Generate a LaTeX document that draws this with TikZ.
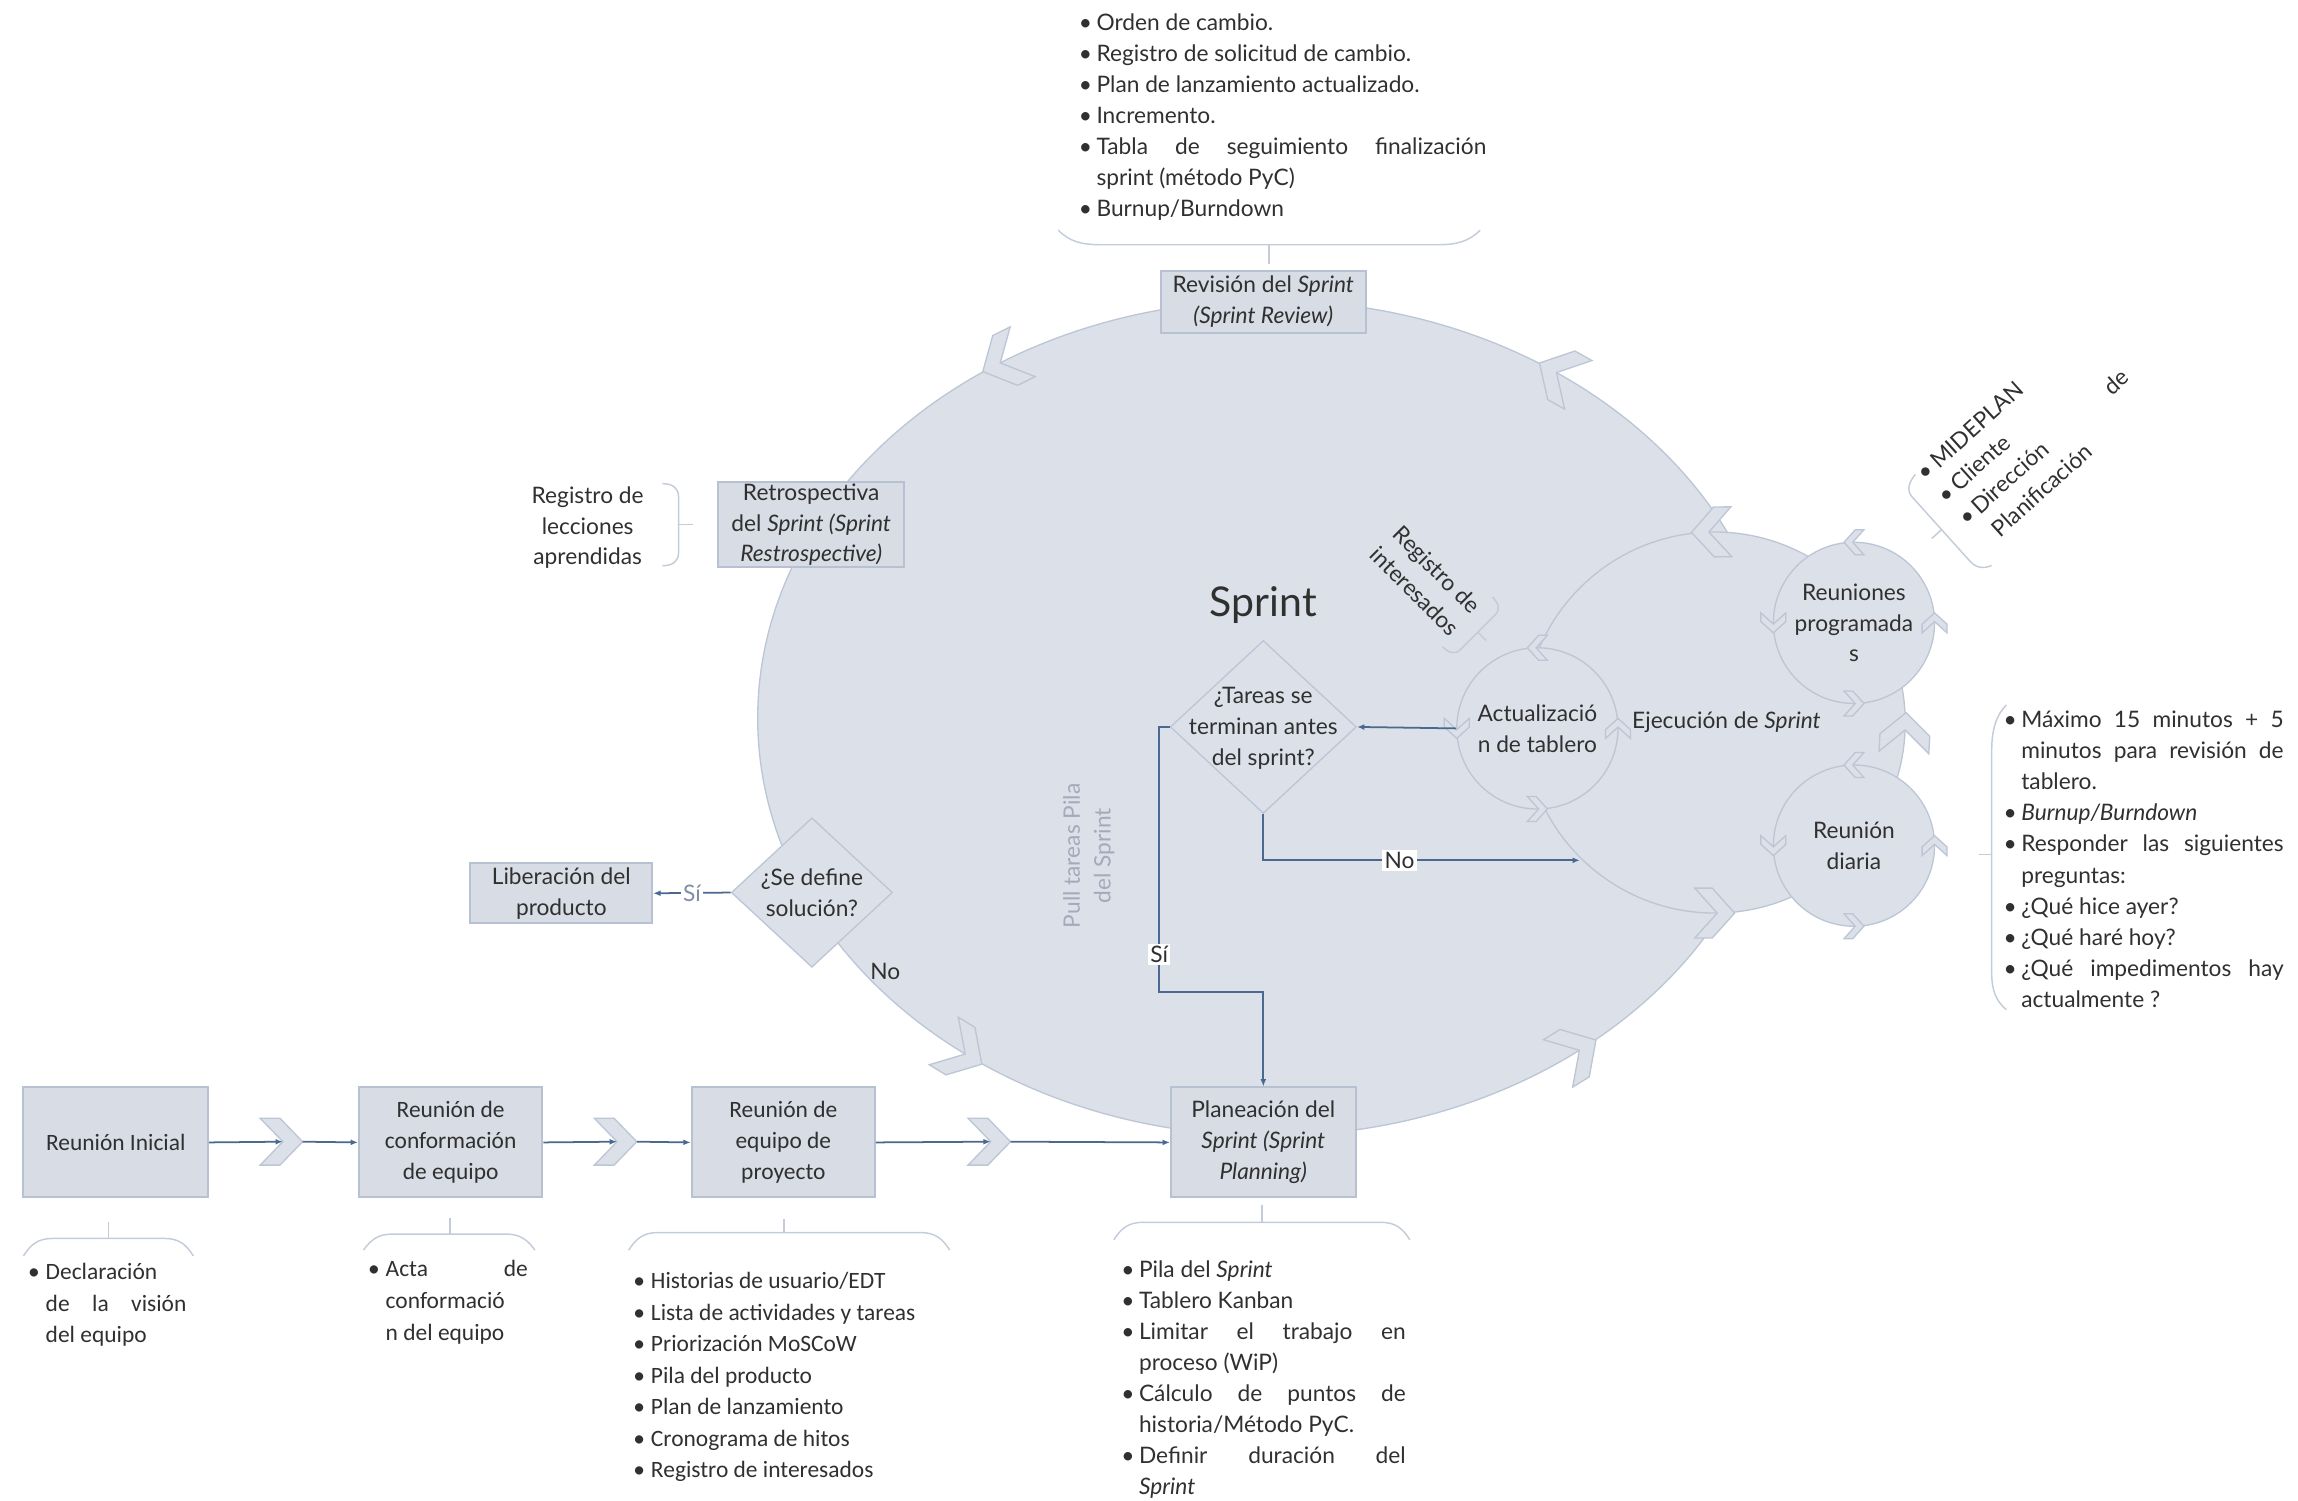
\documentclass[tikz,border=0pt]{standalone}
\usepackage{fontspec}
\setmainfont{Lato}
\newfontfamily\narrowfont{Carlito}
\usetikzlibrary{shapes.geometric,arrows.meta}

\definecolor{sprintfill}{HTML}{DCE0E8}
\definecolor{sprintline}{HTML}{BCC6D5}
\definecolor{boxfill}{HTML}{D7DCE5}
\definecolor{boxline}{HTML}{B7C1D1}
\definecolor{flow}{HTML}{4A6890}
\definecolor{ink}{HTML}{303030}
\definecolor{soft}{HTML}{A3ABBB}
\definecolor{softlabel}{HTML}{7F8FA8}
\definecolor{bracket}{HTML}{C3CCD9}

\newcommand\bul{\makebox[12pt][l]{•}}
\newcommand\ind{\hspace*{12pt}}
\newcommand\jline[2]{\makebox[#1pt][s]{#2}}

% chevron sitting on an ellipse (centre, radii, parameter angle, size)
\newcommand\arcchev[6]{%
  \pgfmathsetmacro\chx{#1+#3*cos(#5)}%
  \pgfmathsetmacro\chy{#2+#4*sin(#5)}%
  \pgfmathsetmacro\cha{atan2(#4*cos(#5),-#3*sin(#5))}%
  \draw[chevron, shift={(\chx,\chy)}, rotate=\cha, scale=#6]
    (-0.4,0.5) -- (-0.05,0.5) -- (0.4,0) -- (-0.05,-0.5) -- (-0.4,-0.5) -- (0.05,0) -- cycle;
}
% chevron of the lower flow, with coordinates at its notch and tip
\newcommand\flowchev[3]{%
  \draw[chevron] (#1-14.5,#2+16) -- (#1-1,#2+16) -- (#1+14.5,#2) -- (#1-1,#2-16)
    -- (#1-14.5,#2-16) -- (#1+1,#2) -- cycle;
  \coordinate (#3n) at (#1+1,#2);
  \coordinate (#3t) at (#1+14.5,#2);
}
% rounded cap bracket with stem (left x, right x, top y, end y, stem x, stem end y)
\newcommand\capbrace[6]{%
  \draw[brace] (#1,-#4) .. controls (#1+5,-#3-4) and (#1+10,-#3) .. (#1+20,-#3)
    -- (#2-20,-#3) .. controls (#2-10,-#3) and (#2-5,-#3-4) .. (#2,-#4);
  \draw[brace] (#5,-#3) -- (#5,-#6);
}

\tikzset{
  cyc/.style={fill=sprintfill, draw=sprintline, line width=0.9pt, inner sep=0pt},
  chevron/.style={fill=sprintfill, draw=sprintline, line width=0.9pt, line join=miter},
  stepbox/.style={rectangle, fill=boxfill, draw=boxline, line width=1.4pt, inner sep=0pt,
    text=ink, font=\fontsize{15.5}{21}\selectfont, align=center},
  narrowbox/.style={stepbox, font=\narrowfont\fontsize{16}{21}\selectfont},
  decision/.style={diamond, fill=sprintfill, draw=sprintline, line width=0.9pt, inner sep=0pt},
  txt/.style={text=ink, font=\fontsize{15.5}{21}\selectfont, align=center, inner sep=0pt},
  listtxt/.style={txt, font=\fontsize{15.5}{21.2}\selectfont},
  narrowtxt/.style={txt, font=\narrowfont\fontsize{16}{21.5}\selectfont},
  flowline/.style={draw=flow, line width=1.2pt, -{Latex[length=5pt,width=4pt]}},
  brace/.style={draw=bracket, line width=1pt},
  lbl/.style={fill=white, text=ink, inner sep=1.5pt, font=\fontsize{15.5}{18}\selectfont},
}

\begin{document}
\begin{tikzpicture}[x=1pt,y=1pt]
\useasboundingbox (0,0) rectangle (1568,-1023.5);

% ---------------- Sprint cycle ----------------
\node[cyc, ellipse, minimum width=698pt, minimum height=570pt] (sprint) at (866,-490) {};
\arcchev{866}{-490}{349}{285}{121.4}{38}
\arcchev{866}{-490}{349}{285}{55.5}{38}
\arcchev{866}{-490}{349}{285}{233.2}{38}
\arcchev{866}{-490}{349}{285}{307}{38}

% execution cycle
\node[cyc, circle, minimum size=260pt] (ejec) at (1170,-493) {};
\arcchev{1170}{-493}{130}{130}{91}{34}
\arcchev{1170}{-493}{130}{130}{270}{34}
\arcchev{1170}{-493}{130}{130}{357}{34}

% small cycles
\node[cyc, circle, minimum size=110pt] (actu) at (1049,-497) {};
\node[cyc, circle, minimum size=110pt] (reuprog) at (1265,-425) {};
\node[cyc, circle, minimum size=110pt] (reudia) at (1265,-577) {};
\foreach \cx/\cy in {1049/-497, 1265/-425, 1265/-577}{
  \foreach \t in {0,90,180,270}{
    \arcchev{\cx}{\cy}{55}{55}{\t}{17}
  }
}

% decisions
\node[decision, minimum width=127pt, minimum height=118pt] (tareas) at (862,-496) {};
\node[decision, minimum width=110pt, minimum height=102pt] (define) at (554,-609) {};
\node[txt] (tareastxt) at (862,-497) {¿Tareas se\\terminan antes\\del sprint?};
\node[txt] (definetxt) at (554,-609) {¿Se define\\solución?};

% ---------------- boxes ----------------
\node[stepbox, minimum width=140pt, minimum height=42pt] (review) at (862,-206)
  {Revisión del \textit{Sprint}\\\textit{(Sprint Review)}};
\node[stepbox, minimum width=127pt, minimum height=58pt] (retro) at (553.5,-358)
  {Retrospectiva\\del \textit{Sprint (Sprint}\\\textit{Restrospective)}};
\node[stepbox, minimum width=124pt, minimum height=41pt] (lib) at (383,-609.5)
  {Liberación del\\producto};
\node[narrowbox, minimum width=126pt, minimum height=75pt] (ri) at (79,-779.5)
  {Reunión Inicial};
\node[narrowbox, minimum width=125pt, minimum height=75pt] (conf) at (307.5,-779.5)
  {Reunión de\\conformación\\de equipo};
\node[narrowbox, minimum width=125pt, minimum height=75pt] (proy) at (534.5,-779.5)
  {Reunión de\\equipo de\\proyecto};
\node[stepbox, minimum width=126pt, minimum height=75pt] (plan) at (862,-779.5)
  {Planeación del\\\textit{Sprint (Sprint}\\\textit{Planning)}};

% ---------------- texts inside the cycles ----------------
\node[txt] (actutxt) at (actu) {Actualizació\\n de tablero};
\node[txt] (reuprogtxt) at (reuprog) {Reuniones\\programada\\s};
\node[txt] (reudiatxt) at (reudia) {Reunión\\diaria};
\node[txt] (ejtxt) at (1178,-493) {Ejecución de \textit{Sprint}};
\node[txt, font=\fontsize{28}{32}\selectfont] (title) at (862,-413) {Sprint};
\node[txt, text=soft, rotate=90] (pull) at (743,-584) {Pull tareas Pila\\del Sprint};
\node[txt] (nofree) at (604,-663) {No};

% ---------------- flow ----------------
\flowchev{192}{-779}{ca}
\flowchev{420}{-779}{cb}
\flowchev{675}{-779}{cc}
\draw[flowline] (ri.east) -- (can);
\draw[flowline] (cat) -- (conf.west);
\draw[flowline] (conf.east) -- (cbn);
\draw[flowline] (cbt) -- (proy.west);
\draw[flowline] (proy.east) -- (ccn);
\draw[flowline] (cct) -- (plan.west);

\coordinate (noend) at (1078,-587);
\coordinate (sibend) at (791,-677);
\draw[flowline] (actu.west) -- (tareas.east);
\draw[flowline] (tareas.south) |- (noend) node[lbl, pos=0.715] (nolbl) {No};
\draw[flowline] (tareas.west) -| (sibend) -| (plan.north);
\node[lbl] (silbl) at (791,-651) {Sí};
\draw[flowline] (define.west) -- (lib.east)
  node[midway, fill=white, inner sep=1.5pt, text=softlabel, font=\fontsize{15.5}{18}\selectfont] (silib) {Sí};

% ---------------- outputs ----------------
\node[listtxt, align=left, anchor=north west] (outrev) at (736,-9)
  {\bul Orden de cambio.\\
   \bul Registro de solicitud de cambio.\\
   \bul Plan de lanzamiento actualizado.\\
   \bul Incremento.\\
   \bul\jline{266}{Tabla de seguimiento finalización}\\
   \ind sprint (método PyC)\\
   \bul Burnup/Burndown};
\draw[brace] (722,-157) .. controls (730,-165) and (738,-167) .. (752,-167)
  -- (980,-167) .. controls (994,-167) and (1002,-165) .. (1010,-157);
\draw[brace] (866,-167) -- (866,-180);

\node[txt] (lessons) at (401,-360) {Registro de\\lecciones\\aprendidas};
\draw[brace] (452,-330) .. controls (459,-330) and (463,-333) .. (463,-339)
  -- (463,-377) .. controls (463,-383) and (459,-386) .. (452,-386);
\draw[brace] (463,-358) -- (473,-358);

\begin{scope}[shift={(973,-396)}, rotate=-45]
  \node[txt, rotate=-45] (regint) at (0,0) {Registro de\\interesados};
  \draw[brace] (40,24) .. controls (46,24) and (50,22) .. (50,17)
    -- (50,-17) .. controls (50,-22) and (46,-24) .. (40,-24);
  \draw[brace] (50,0) -- (58,0);
\end{scope}

\begin{scope}[shift={(1314,-324)}, rotate=42]
  \node[txt, align=left, anchor=north west, rotate=42] (stake) at (-3,8)
    {\bul MIDEPLAN\\ \bul Cliente\\ \bul\jline{138}{Dirección de}\\ \ind Planificación};
  \draw[brace] (-5,5) .. controls (-12,4) and (-17,1) .. (-17,-5)
    -- (-17,-64) .. controls (-17,-70) and (-14,-74) .. (-8,-76);
  \draw[brace] (-17,-35) -- (-26,-35);
\end{scope}

\node[listtxt, align=left, anchor=north west] (outdaily) at (1367,-485)
  {\bul\jline{179}{Máximo 15 minutos + 5}\\
   \ind\jline{179}{minutos para revisión de}\\
   \ind tablero.\\
   \bul\textit{Burnup/Burndown}\\
   \bul\jline{179}{Responder las siguientes}\\
   \ind preguntas:\\
   \bul ¿Qué hice ayer?\\
   \bul ¿Qué haré hoy?\\
   \bul\jline{179}{¿Qué impedimentos hay}\\
   \ind actualmente ?};
\draw[brace] (1369,-481) .. controls (1362,-488) and (1359,-498) .. (1359,-512)
  -- (1359,-664) .. controls (1359,-676) and (1362,-683) .. (1369,-689);
\draw[brace] (1359,-583) -- (1350,-583);

% lists under the lower flow
\capbrace{16}{132}{845}{857}{74}{834}
\node[narrowtxt, align=left, anchor=north west] (outri) at (19,-862)
  {\bul Declaración\\ \ind\jline{96}{de la visión}\\ \ind del equipo};

\capbrace{248}{365}{842}{853}{307}{831}
\node[narrowtxt, align=left, anchor=north west] (outconf) at (251,-860)
  {\bul\jline{97}{Acta de}\\ \ind conformació\\ \ind n del equipo};

\capbrace{429}{648}{841}{853}{535}{832}
\node[narrowtxt, align=left, anchor=north west] (outproy) at (432,-868)
  {\bul Historias de usuario/EDT\\
   \bul Lista de actividades y tareas\\
   \bul Priorización MoSCoW\\
   \bul Pila del producto\\
   \bul Plan de lanzamiento\\
   \bul Cronograma de hitos\\
   \bul Registro de interesados};

\capbrace{760}{962}{834}{846}{861}{822}
\node[listtxt, align=left, anchor=north west] (outplan) at (765,-860)
  {\bul Pila del \textit{Sprint}\\
   \bul Tablero Kanban\\
   \bul\jline{182}{Limitar el trabajo en}\\
   \ind proceso (WiP)\\
   \bul\jline{182}{Cálculo de puntos de}\\
   \ind historia/Método PyC.\\
   \bul\jline{182}{Definir duración del}\\
   \ind\textit{Sprint}};

\end{tikzpicture}
\end{document}
